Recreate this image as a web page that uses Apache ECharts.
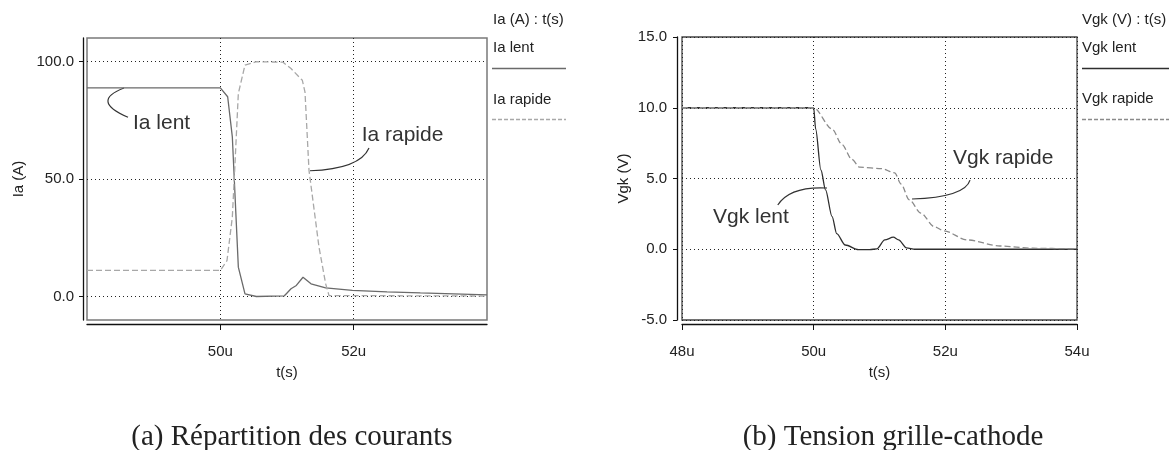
<!DOCTYPE html>
<html>
<head>
<meta charset="utf-8">
<script src="https://cdn.jsdelivr.net/npm/echarts@6/dist/echarts.min.js"></script>
<style>
  html, body { margin: 0; padding: 0; background: #fff; }
  #c { width: 1176px; height: 450px; }
</style>
</head>
<body>
<div id="c"></div>
<script>
// ---- (a) anode currents, time in microseconds ----
const tIaLent  = [48, 50.0, 50.03, 50.11, 50.18, 50.27, 50.37, 50.54, 50.96, 50.99, 51.06, 51.14, 51.24, 51.36, 51.58, 51.98, 52.5, 53.0, 53.5, 54];
const iaLent   = [88.8, 88.8, 88.5, 85, 67.9, 12.5, 1.1, 0, 0.3, 1.2, 3.3, 4.7, 8.2, 5.4, 3.7, 2.6, 2.0, 1.5, 1.1, 0.7];
const tIaRapide = [48, 50.0, 50.03, 50.1, 50.18, 50.22, 50.27, 50.37, 50.54, 50.94, 51.06, 51.23, 51.27, 51.33, 51.48, 51.58, 51.63, 54];
const iaRapide  = [11.1, 11.1, 11.6, 15.3, 33.8, 56.6, 86.4, 98.5, 99.9, 99.7, 97, 92, 87, 53.7, 21, 5.4, 0.4, 0.2];

// ---- (b) gate-cathode voltages ----
const tVgkLent = [48, 50.0, 50.03, 50.11, 50.18, 50.28, 50.35, 50.48, 50.68, 50.85, 50.96, 51.08, 51.21, 51.29, 51.41, 51.54, 54];
const vgkLent  = [10, 10, 8.5, 5.6, 4.2, 2.3, 1.1, 0.3, -0.03, -0.03, 0.03, 0.66, 0.85, 0.66, 0.1, 0, 0];
const tVgkRapide = [48, 50.0, 50.28, 50.43, 50.58, 50.7, 51.03, 51.23, 51.33, 51.45, 51.63, 51.83, 51.98, 52.33, 52.83, 53.33, 54];
const vgkRapide  = [10, 10, 8.5, 7.4, 6.35, 5.8, 5.7, 5.4, 4.6, 3.5, 2.55, 1.6, 1.3, 0.66, 0.23, 0.07, 0.02];

// ---- axis ticks ----
const iaTicks = [0, 50, 100];
const iaTimeTicks = [50, 52];

const zip = (xs, ys) => xs.map((x, i) => [x, ys[i]]);

const FONT = 'Liberation Sans, Arial, sans-serif';
const SERIF = 'Liberation Serif, Times New Roman, serif';
const COL = {
  iaLent: '#6a6a6a', iaRapide: '#a8a8a8',
  vgkLent: '#2e2e2e', vgkRapide: '#8a8a8a'
};
const DASH = [6, 3];

const chart = echarts.init(document.getElementById('c'), null, { renderer: 'canvas' });

const gridLine = { show: true, lineStyle: { type: [1, 3], color: '#222', width: 1 } };
const axisLine = { show: true, onZero: false, lineStyle: { color: '#111', width: 1.3 } };
const labelStyle = { color: '#222', fontSize: 15, fontFamily: FONT };
const nameStyle = { color: '#222', fontSize: 15, fontFamily: FONT };

chart.setOption({
  animation: false,
  backgroundColor: '#fff',
  grid: [
    { left: 87, top: 38, width: 400, height: 282, show: true, borderColor: '#7a7a7a', borderWidth: 1.5, backgroundColor: 'transparent' },
    { left: 682, top: 37, width: 395, height: 283, show: true, borderColor: '#444', borderWidth: 1.3, backgroundColor: 'transparent' }
  ],
  xAxis: [
    {
      type: 'value', gridIndex: 0, min: 48, max: 54, interval: 2, offset: 4,
      axisLine: axisLine,
      axisTick: { show: true, length: 6, customValues: iaTimeTicks, lineStyle: { color: '#111' } },
      axisLabel: { customValues: iaTimeTicks, formatter: v => v + 'u', margin: 20, ...labelStyle },
      splitLine: gridLine,
      name: 't(s)', nameLocation: 'middle', nameGap: 41, nameTextStyle: nameStyle
    },
    {
      type: 'value', gridIndex: 1, min: 48, max: 54, interval: 2, offset: 4,
      axisLine: axisLine,
      axisTick: { show: true, length: 6, lineStyle: { color: '#111' } },
      axisLabel: { formatter: v => v + 'u', margin: 20, ...labelStyle },
      splitLine: gridLine,
      name: 't(s)', nameLocation: 'middle', nameGap: 41, nameTextStyle: nameStyle
    }
  ],
  yAxis: [
    {
      type: 'value', gridIndex: 0, min: -10, max: 110, offset: 4,
      axisLine: axisLine,
      axisTick: { show: true, length: 4, customValues: iaTicks, lineStyle: { color: '#111' } },
      axisLabel: { customValues: iaTicks, formatter: v => v.toFixed(1), margin: 9, ...labelStyle },
      splitLine: gridLine,
      name: 'Ia (A)', nameLocation: 'middle', nameGap: 57, nameTextStyle: nameStyle
    },
    {
      type: 'value', gridIndex: 1, min: -5, max: 15, interval: 5, offset: 5,
      axisLine: axisLine,
      axisTick: { show: true, length: 4, lineStyle: { color: '#111' } },
      axisLabel: { formatter: v => v.toFixed(1), margin: 10, ...labelStyle },
      splitLine: gridLine,
      name: 'Vgk (V)', nameLocation: 'middle', nameGap: 46, nameTextStyle: nameStyle
    }
  ],
  series: [
    { name: 'Ia lent', type: 'line', xAxisIndex: 0, yAxisIndex: 0, data: zip(tIaLent, iaLent),
      showSymbol: false, lineStyle: { color: COL.iaLent, width: 1.3 } },
    { name: 'Ia rapide', type: 'line', xAxisIndex: 0, yAxisIndex: 0, data: zip(tIaRapide, iaRapide),
      showSymbol: false, lineStyle: { color: COL.iaRapide, width: 1.3, type: DASH } },
    { name: 'Vgk lent', type: 'line', xAxisIndex: 1, yAxisIndex: 1, data: zip(tVgkLent, vgkLent),
      showSymbol: false, smooth: 0.3, smoothMonotone: 'x', lineStyle: { color: COL.vgkLent, width: 1.3 } },
    { name: 'Vgk rapide', type: 'line', xAxisIndex: 1, yAxisIndex: 1, data: zip(tVgkRapide, vgkRapide),
      showSymbol: false, smooth: 0.3, smoothMonotone: 'x', lineStyle: { color: COL.vgkRapide, width: 1.3, type: DASH } }
  ]
});

// ---- callouts, placed in data coordinates ----
const px = (g, p) => chart.convertToPixel({ gridIndex: g }, p);

function leader(g, p0, c, p1) {
  const a = px(g, p0), b = px(g, c), d = px(g, p1);
  return {
    type: 'bezierCurve', silent: true,
    shape: { x1: a[0], y1: a[1], cpx1: b[0], cpy1: b[1], x2: d[0], y2: d[1] },
    style: { stroke: '#333', lineWidth: 1.2, fill: null }
  };
}
function callout(g, p, text) {
  const a = px(g, p);
  return {
    type: 'text', silent: true, x: a[0], y: a[1],
    style: { text: text, fill: '#333', fontSize: 21, fontFamily: FONT, verticalAlign: 'middle', align: 'left' }
  };
}
function plain(x, y, text, size, family, align) {
  return {
    type: 'text', silent: true, x: x, y: y,
    style: { text: text, fill: '#222', fontSize: size, fontFamily: family || FONT, verticalAlign: 'middle', align: align || 'left' }
  };
}
function keyLine(x1, x2, y, color, dash) {
  return {
    type: 'line', silent: true, shape: { x1: x1, y1: y, x2: x2, y2: y },
    style: { stroke: color, lineWidth: 1.3, lineDash: dash || null }
  };
}

chart.setOption({
  graphic: [
    leader(0, [48.555, 88.7], [48.045, 83.2], [48.615, 76.3]),
    callout(0, [48.69, 73.7], 'Ia lent'),
    leader(0, [51.345, 53.5], [52.095, 54.3], [52.23, 63.2]),
    callout(0, [52.12, 68.7], 'Ia rapide'),
    leader(1, [50.203, 4.33], [49.64, 4.47], [49.455, 3.13]),
    callout(1, [48.47, 2.28], 'Vgk lent'),
    leader(1, [51.494, 3.55], [52.30, 3.69], [52.375, 4.89]),
    callout(1, [52.117, 6.45], 'Vgk rapide'),

    // keys
    plain(493, 20, 'Ia (A) : t(s)', 15),
    plain(493, 48, 'Ia lent', 15),
    keyLine(492, 566, 68.5, COL.iaLent),
    plain(493, 100, 'Ia rapide', 15),
    keyLine(492, 566, 119.5, COL.iaRapide, [4, 2]),
    plain(1082, 20, 'Vgk (V) : t(s)', 15),
    plain(1082, 48, 'Vgk lent', 15),
    keyLine(1082, 1169, 68.5, COL.vgkLent),
    plain(1082, 99, 'Vgk rapide', 15),
    keyLine(1082, 1169, 119.5, COL.vgkRapide, [4, 2]),

    // captions
    plain(292, 437, '(a) Répartition des courants', 29, SERIF, 'center'),
    plain(893, 437, '(b) Tension grille-cathode', 29, SERIF, 'center')
  ]
});
</script>
</body>
</html>
